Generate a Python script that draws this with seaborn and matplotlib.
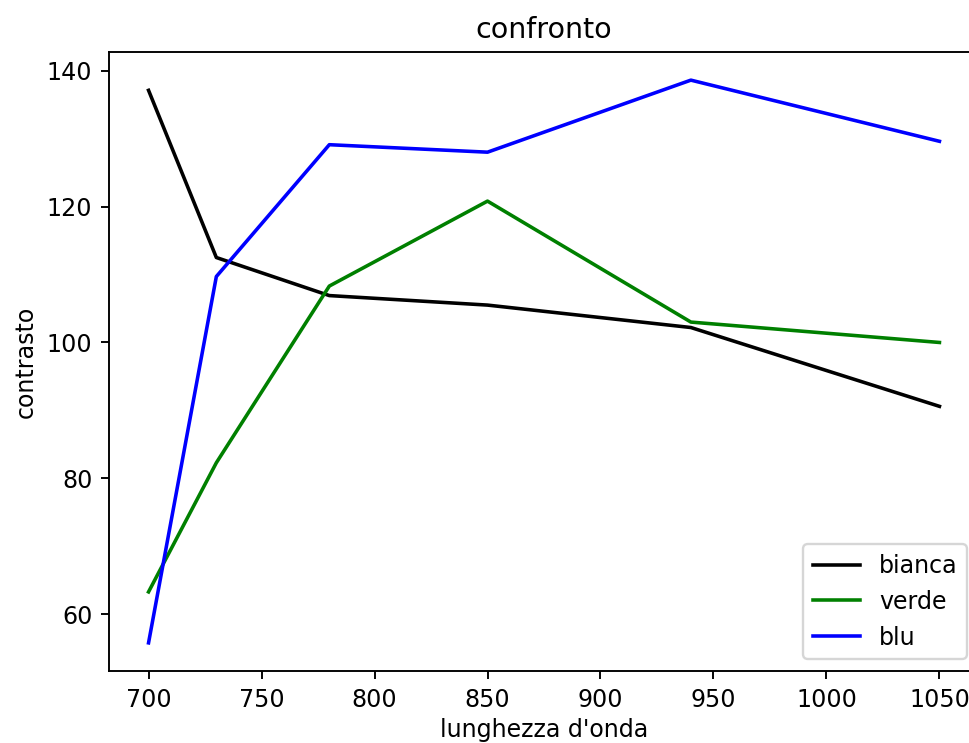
import matplotlib
matplotlib.use("Agg")
import matplotlib.pyplot as plt
import pandas as pd
import seaborn as sns

# Wavelengths (nm) and contrast measured for each sample
lunghezza_onda = [700, 730, 780, 850, 940, 1050]
bianca = [137.1, 112.5, 106.9, 105.5, 102.2, 90.6]
verde = [63.3, 82.3, 108.3, 120.8, 103.0, 100.0]
blu = [55.8, 109.7, 129.1, 128.0, 138.6, 129.6]

serie = [("bianca", bianca, "black"), ("verde", verde, "green"), ("blu", blu, "blue")]

DPI = 171
fig = plt.figure(figsize=(969 / DPI, 743 / DPI), dpi=DPI)
ax = fig.add_axes([109 / 969, 1 - 671 / 743, 870 / 969, (671 - 52) / 743])

for nome, valori, colore in serie:
    df = pd.DataFrame({"x": lunghezza_onda, "y": valori})
    sns.lineplot(data=df, x="x", y="y", color=colore, label=nome, ax=ax, linewidth=1.5)

ax.set_title("confronto")
ax.set_xlabel("lunghezza d'onda", labelpad=2.5)
ax.set_ylabel("contrasto")
ax.set_xticks([700, 750, 800, 850, 900, 950, 1000, 1050])
ax.set_yticks([60, 80, 100, 120, 140])
ax.legend(loc="lower right")

fig.savefig("out.png", dpi=DPI)
